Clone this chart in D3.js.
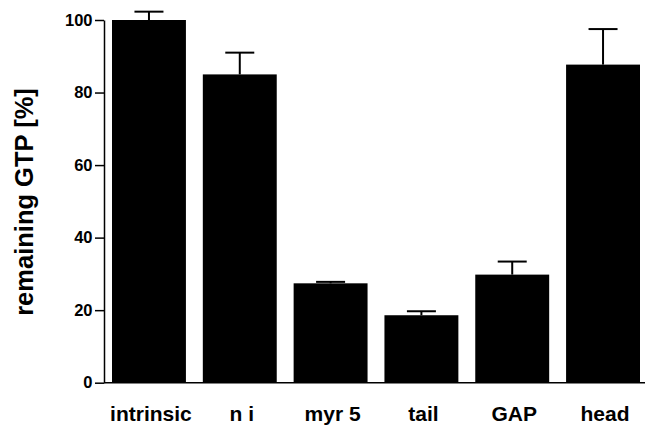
<!DOCTYPE html>
<html>
<head>
<meta charset="utf-8">
<script src="https://cdn.jsdelivr.net/npm/d3@7"></script>
<style>
  html, body { margin: 0; padding: 0; background: #fff; }
  svg { display: block; }
  text { font-family: "Liberation Sans", Arial, Helvetica, sans-serif; font-weight: bold; fill: #000; }
</style>
</head>
<body>
<svg id="chart" width="648" height="426"></svg>
<script>
const categories = ["intrinsic", "n i", "myr 5", "tail", "GAP", "head"];
const values = [100, 85, 27.4, 18.6, 29.8, 87.7];
const errors = [2.3, 6.0, 0.4, 1.1, 3.6, 9.8];
const yTicks = [0, 20, 40, 60, 80, 100];
const yLabel = "remaining GTP [%]";

const svg = d3.select("#chart");
const x = d3.scaleBand().domain(categories).range([112, 640]).paddingInner(0.186).paddingOuter(0);
const y = d3.scaleLinear().domain([0, 100]).range([382.7, 20]);

// bars
svg.append("g").selectAll("rect").data(categories).join("rect")
  .attr("x", d => x(d))
  .attr("y", (d, i) => y(values[i]))
  .attr("width", x.bandwidth())
  .attr("height", (d, i) => y(0) - y(values[i]))
  .attr("fill", "#000");

// error bars
const capW = 29;
const eg = svg.append("g").attr("stroke", "#000").attr("stroke-width", 2);
categories.forEach((c, i) => {
  const cx = x(c) + x.bandwidth() / 2;
  eg.append("line").attr("x1", cx).attr("x2", cx)
    .attr("y1", y(values[i])).attr("y2", y(values[i] + errors[i]));
  eg.append("line").attr("x1", cx - capW / 2).attr("x2", cx + capW / 2)
    .attr("y1", y(values[i] + errors[i])).attr("y2", y(values[i] + errors[i]));
});

// y axis
const yAxis = svg.append("g").attr("transform", "translate(104,0)")
  .call(d3.axisLeft(y).tickValues(yTicks).tickSize(9).tickPadding(2.5).tickSizeOuter(0));
yAxis.select(".domain").attr("stroke", "#000").attr("stroke-width", 1.5);
yAxis.selectAll(".tick line").attr("stroke", "#000").attr("stroke-width", 1.5);
yAxis.selectAll(".tick text").style("font-size", "16.5px").style("font-family", "'Liberation Sans', Arial, sans-serif").style("font-weight", "bold").attr("fill", "#000");

// baseline
svg.append("line").attr("x1", 104).attr("x2", 645).attr("y1", y(0)).attr("y2", y(0))
  .attr("stroke", "#000").attr("stroke-width", 1.5);

// x labels
svg.append("g").selectAll("text").data(categories).join("text")
  .attr("x", d => x(d) + x.bandwidth() / 2 + 2)
  .attr("y", 421)
  .attr("text-anchor", "middle")
  .style("font-size", "21px")
  .text(d => d);

// y label
svg.append("text")
  .attr("transform", "translate(33,202) rotate(-90)")
  .attr("text-anchor", "middle")
  .style("font-size", "25.5px")
  .text(yLabel);
</script>
</body>
</html>
